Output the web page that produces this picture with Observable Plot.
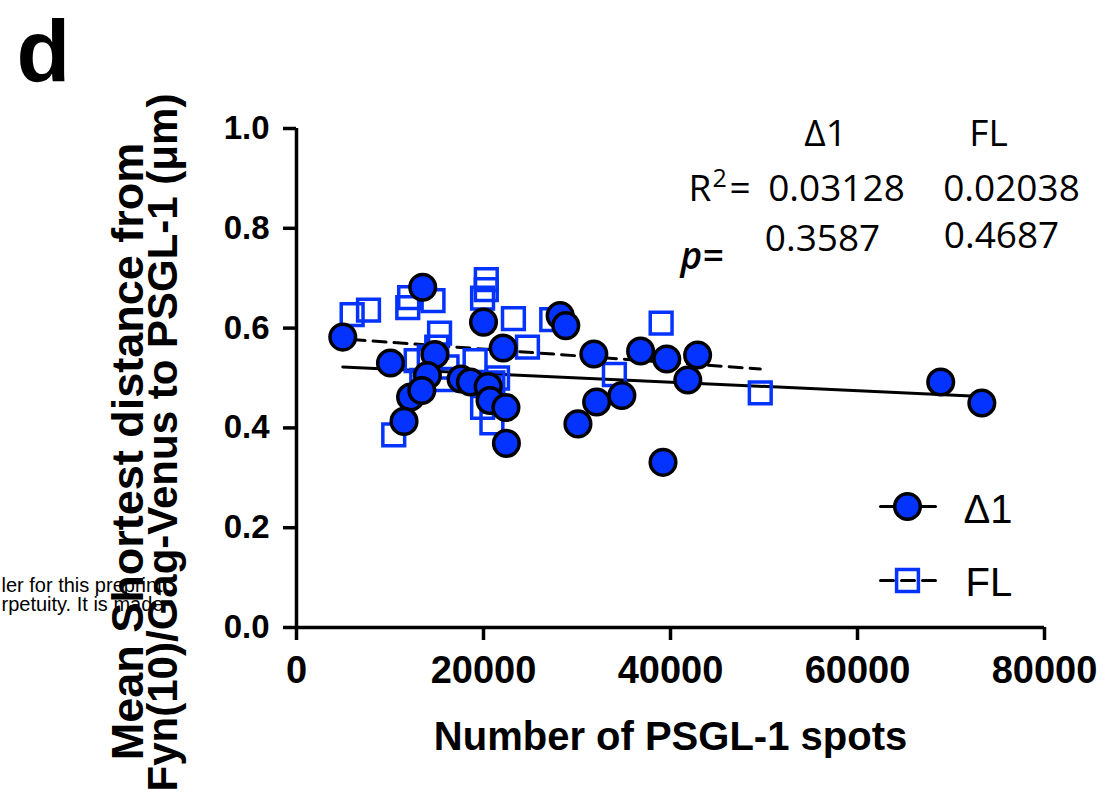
<!DOCTYPE html>
<html><head><meta charset="utf-8">
<script src="https://cdn.jsdelivr.net/npm/d3@7"></script>
<script src="https://cdn.jsdelivr.net/npm/@observablehq/plot@0.6"></script>
<style>body{margin:0;background:#fff}</style>
</head><body><div id="chart"></div>
<script>
// ---- data ----
const delta1Spots = [4950,13500,20000,10050,14800,14000,12200,13400,11500,17600,18600,20500,20700,22400,22450,22100,28200,28800,31800,36800,39600,42900,41850,32100,34800,30100,39200,68900,73300];
const delta1Dist  = [0.582,0.682,0.612,0.530,0.547,0.505,0.462,0.475,0.413,0.498,0.492,0.483,0.455,0.441,0.369,0.560,0.625,0.605,0.548,0.554,0.538,0.546,0.496,0.452,0.465,0.408,0.331,0.492,0.450];
const flSpots = [5950,7700,11900,12100,14600,15300,15000,14200,13400,15900,19100,20300,20300,19900,23200,24700,27300,10400,19900,20900,21000,21500,39000,34000,49600,16100,12800,20600];
const flDist  = [0.627,0.636,0.641,0.661,0.655,0.590,0.562,0.542,0.495,0.497,0.535,0.697,0.677,0.660,0.619,0.562,0.617,0.386,0.441,0.410,0.490,0.500,0.610,0.507,0.470,0.522,0.535,0.480];
const delta1FitX = [4950, 73300], delta1FitY = [0.522, 0.463];
const flFitX = [5950, 49600], flFitY = [0.577, 0.518];
const xTicks = [0, 20000, 40000, 60000, 80000];
const yTicks = [0, 0.2, 0.4, 0.6, 0.8, 1.0];
const seriesNames = ["\u03941", "FL"];
const r2Values = ["0.03128", "0.02038"];
const pValues = ["0.3587", "0.4687"];

const delta1 = delta1Spots.map((x, i) => ({x, y: delta1Dist[i]}));
const fl = flSpots.map((x, i) => ({x, y: flDist[i]}));
const delta1Fit = delta1FitX.map((x, i) => ({x, y: delta1FitY[i]}));
const flFit = flFitX.map((x, i) => ({x, y: flFitY[i]}));

// ---- layout ----
const W = 1119, H = 799, mL = 296, mR = 75, mT = 128, mB = 172;
const sx = d3.scaleLinear([0, 80000], [mL, W - mR]);
const sy = d3.scaleLinear([0, 1], [H - mB, mT]);
const px = v => sx.invert(v), py = v => sy.invert(v);
const BLUE = "#0433ff";
const ANN = "Open Sans, Liberation Sans, sans-serif";

function label(t, xp, yp, o = {}) {
  return Plot.text([{x: px(xp), y: py(yp), t}], {x: "x", y: "y", text: "t", lineAnchor: "bottom", ...o});
}

const chart = Plot.plot({
  width: W, height: H,
  marginLeft: mL, marginRight: mR, marginTop: mT, marginBottom: mB,
  x: {domain: [0, 80000]},
  y: {domain: [0, 1]},
  style: {fontFamily: "Liberation Sans, Arial, sans-serif", background: "white", overflow: "visible"},
  marks: [
    // watermark fragments
    label("ler for this preprint", 1, 591, {textAnchor: "start", fontSize: 20, fontFamily: "Liberation Sans, Arial"}),
    label("rpetuity. It is made", 1, 610, {textAnchor: "start", fontSize: 20, fontFamily: "Liberation Sans, Arial"}),
    // axes
    Plot.axisX({ticks: xTicks, tickFormat: d3.format("d"), tickSize: 13, tickPadding: 16, fontSize: 38, fontWeight: "bold", strokeWidth: 3.5, label: null}),
    Plot.axisY({ticks: yTicks, tickFormat: d3.format(".1f"), tickSize: 13, tickPadding: 14, fontSize: 33, fontWeight: "bold", strokeWidth: 3.5, label: null}),
    Plot.ruleX([0], {y1: 0, y2: 1, strokeWidth: 3.5}),
    Plot.ruleY([0], {x1: 0, x2: 80000, strokeWidth: 3.5}),
    // fits
    Plot.line(delta1Fit, {x: "x", y: "y", stroke: "black", strokeWidth: 3}),
    Plot.line(flFit, {x: "x", y: "y", stroke: "black", strokeWidth: 3, strokeDasharray: "13,8"}),
    // points
    Plot.dot(fl, {x: "x", y: "y", symbol: "square", r: 12.3, stroke: BLUE, strokeWidth: 3.5, fill: "none"}),
    Plot.dot(delta1, {x: "x", y: "y", r: 12.8, fill: BLUE, stroke: "black", strokeWidth: 3.5}),
    // axis titles
    label("Number of PSGL-1 spots", 670, 749, {fontSize: 40, fontWeight: "bold"}),
    Plot.text([{x: px(128), y: py(451), t: "Mean Shortest distance from"}], {x: "x", y: "y", text: "t", rotate: -90, fontSize: 45, fontWeight: "bold", textAnchor: "middle", lineAnchor: "middle"}),
    Plot.text([{x: px(163), y: py(442), t: "Fyn(10)/Gag-Venus to PSGL-1 (\u03bcm)"}], {x: "x", y: "y", text: "t", rotate: -90, fontSize: 42, fontWeight: "bold", textAnchor: "middle", lineAnchor: "middle"}),
    // panel letter
    label("d", 16, 80, {textAnchor: "start", fontSize: 88, fontWeight: "bold"}),
    // statistics annotation
    label(seriesNames[0], 825, 145, {fontSize: 37, fontFamily: ANN}),
    label(seriesNames[1], 988, 145, {fontSize: 37, fontFamily: ANN}),
    label("R", 688, 200, {textAnchor: "start", fontSize: 37, fontFamily: ANN}),
    label("2", 712, 186, {textAnchor: "start", fontSize: 25, fontFamily: ANN}),
    label("=", 729, 200, {textAnchor: "start", fontSize: 37, fontFamily: ANN}),
    label(r2Values[0], 836, 200, {fontSize: 37, fontFamily: ANN}),
    label(r2Values[1], 1011, 200, {fontSize: 37, fontFamily: ANN}),
    label("p=", 680, 268, {textAnchor: "start", fontSize: 37, fontFamily: ANN, fontStyle: "italic", fontWeight: 600}),
    label(pValues[0], 822, 250, {fontSize: 37, fontFamily: ANN}),
    label(pValues[1], 1001, 247, {fontSize: 37, fontFamily: ANN}),
    // legend
    Plot.line([{x: px(880), y: py(506)}, {x: px(935), y: py(506)}], {x: "x", y: "y", stroke: "black", strokeWidth: 3}),
    Plot.dot([{x: px(907), y: py(506)}], {x: "x", y: "y", r: 12.8, fill: BLUE, stroke: "black", strokeWidth: 3.5}),
    Plot.line([{x: px(880), y: py(580)}, {x: px(935), y: py(580)}], {x: "x", y: "y", stroke: "black", strokeWidth: 3, strokeDasharray: "13,8"}),
    Plot.dot([{x: px(907), y: py(580)}], {x: "x", y: "y", symbol: "square", r: 12.3, stroke: BLUE, strokeWidth: 3.5, fill: "none"}),
    label(seriesNames[0], 963, 522, {textAnchor: "start", fontSize: 40}),
    label(seriesNames[1], 965, 595, {textAnchor: "start", fontSize: 40})
  ]
});
document.getElementById("chart").appendChild(chart);
</script>
</body></html>
